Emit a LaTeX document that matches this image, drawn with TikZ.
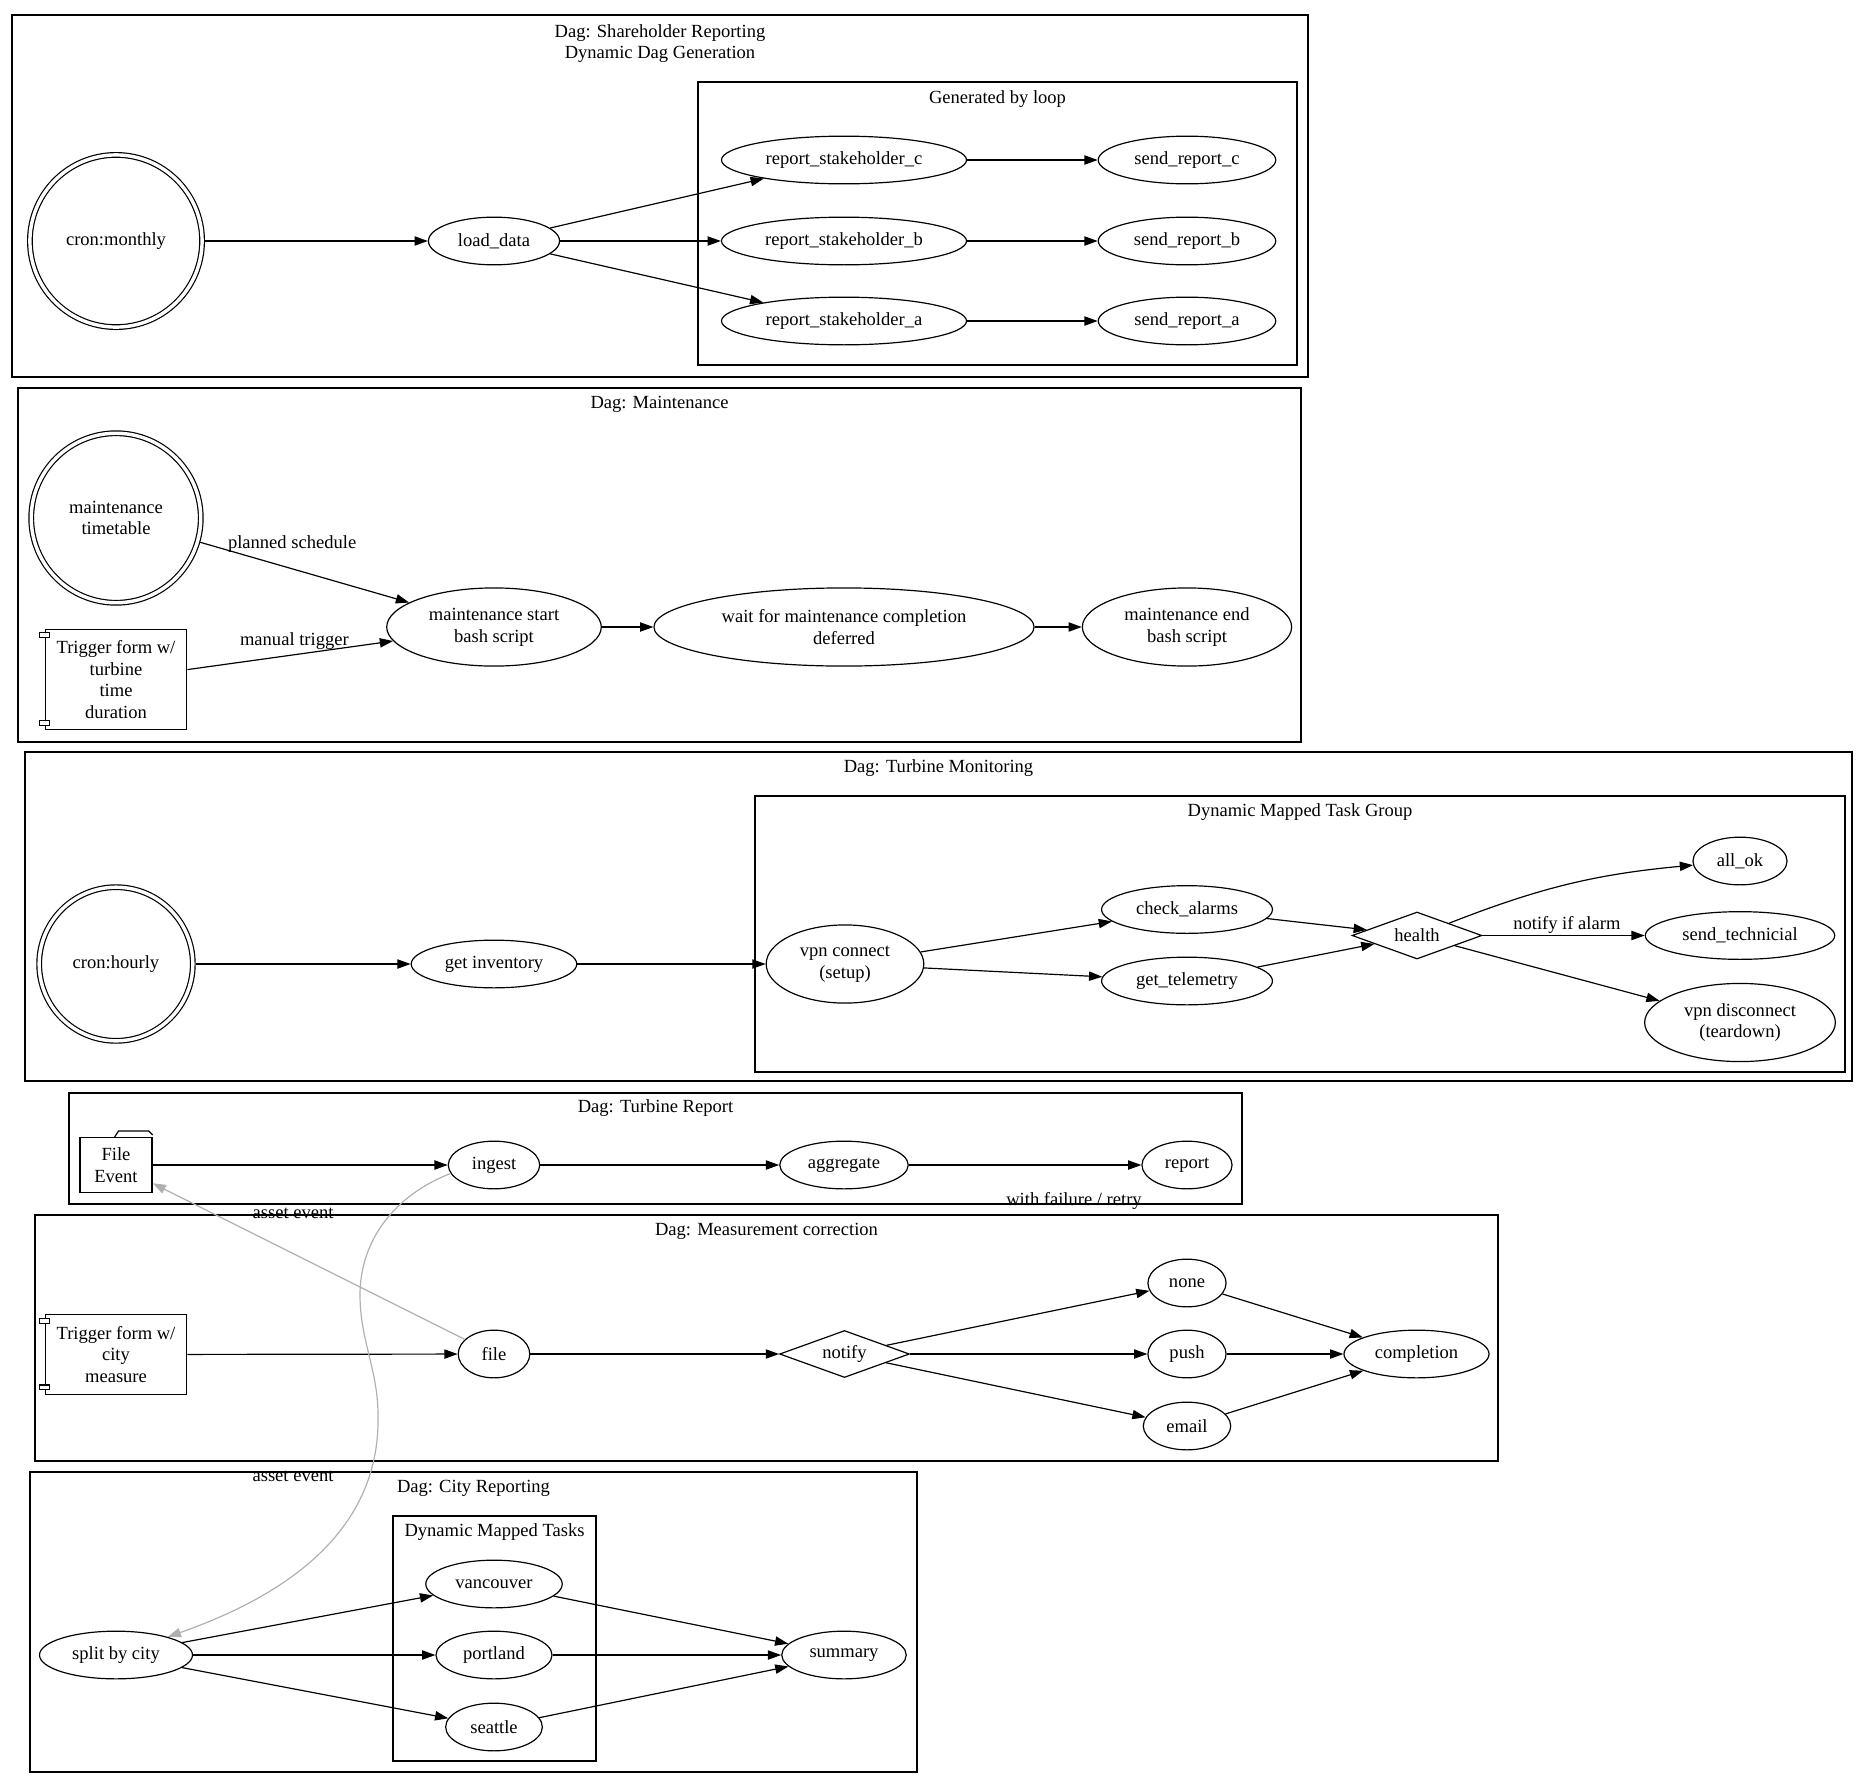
\documentclass[tikz,border=0pt]{standalone}
\usepackage{fontspec}
\setmainfont{Liberation Serif}
\usetikzlibrary{arrows.meta,shapes.geometric}
\definecolor{assetgray}{HTML}{B0B0B0}
\tikzset{
  task/.style={draw, ellipse, inner sep=0pt, minimum height=36pt, align=center},
  tall/.style={task, minimum height=59pt},
  sched/.style={draw, circle, double, double distance=2.6pt, outer sep=2.2pt, inner sep=0pt, align=center},
  form/.style={draw, rectangle, inner sep=0pt, minimum width=107pt, align=center},
  choice/.style={draw, diamond, shape aspect=2.7, inner sep=0pt, minimum width=98pt, minimum height=35.5pt},
  dag/.style={draw},
  flow/.style={-{Triangle[length=10pt,width=7pt]}},
  asset/.style={flow, draw=assetgray},
  lbl/.style={inner sep=0pt}
}

\begin{document}
\begin{tikzpicture}[x=0.755pt, y=-0.755pt, line width=0.9pt, font=\fontsize{14pt}{16.5pt}\selectfont]
\useasboundingbox (0,0) rectangle (1872,1789);

% Dag: Shareholder Reporting
\draw[dag] (12,15) rectangle (1308,377);
\node[align=center] (t1) at (660,43.5) {Dag: Shareholder Reporting\\Dynamic Dag Generation};
\draw[dag] (698,82) rectangle (1297,365);
\node (t1b) at (997.5,99) {Generated by loop};
\node[sched, minimum size=130pt] (cronm) at (116,241) {cron:monthly};
\node[task, minimum width=99pt] (loaddata) at (494,241) {load\_data};
\node[task, minimum width=185pt] (rsc) at (844,160) {report\_stakeholder\_c};
\node[task, minimum width=185pt] (rsb) at (844,241) {report\_stakeholder\_b};
\node[task, minimum width=185pt] (rsa) at (844,321) {report\_stakeholder\_a};
\node[task, minimum width=134pt] (src) at (1187,160) {send\_report\_c};
\node[task, minimum width=134pt] (srb) at (1187,241) {send\_report\_b};
\node[task, minimum width=134pt] (sra) at (1187,321) {send\_report\_a};
\draw[flow] (cronm) -- (loaddata);
\foreach \s in {a,b,c} {
  \draw[flow] (loaddata) -- (rs\s);
  \draw[flow] (rs\s) -- (sr\s);
}

% Dag: Maintenance
\draw[dag] (18,388) rectangle (1301,742);
\node (t2) at (659.5,404) {Dag: Maintenance};
\node[sched, minimum size=128pt] (mtime) at (116,518) {maintenance\\timetable};
\node[form, minimum height=76pt] (trigt) at (116,679.5) {Trigger form w/\\turbine\\time\\duration};
\node[tall, minimum width=162pt] (mstart) at (494,627) {maintenance start\\bash script};
\node[tall, minimum width=287pt] (mwait) at (844,627) {wait for maintenance completion\\deferred};
\node[tall, minimum width=158pt] (mend) at (1187,627) {maintenance end\\bash script};
\draw[flow] (mtime) -- node[lbl, pos=0.44, yshift=19pt] {planned schedule} (mstart);
\draw[flow] (trigt) -- node[lbl, pos=0.52, yshift=10pt] {manual trigger} (mstart);
\draw[flow] (mstart) -- (mwait);
\draw[flow] (mwait) -- (mend);

% Dag: Turbine Monitoring
\draw[dag] (25,752) rectangle (1852,1081);
\node (t3) at (938.5,768) {Dag: Turbine Monitoring};
\draw[dag] (755,796) rectangle (1845,1072);
\node (t3b) at (1300,812) {Dynamic Mapped Task Group};
\node[sched, minimum size=116pt] (cronh) at (116,964) {cron:hourly};
\node[task, minimum width=125pt] (getinv) at (494,964) {get inventory};
\node[tall, minimum width=119pt] (vpnc) at (845,964) {vpn connect\\(setup)};
\node[task, minimum width=129pt] (checka) at (1187,909.5) {check\_alarms};
\node[task, minimum width=129pt] (gettel) at (1187,981) {get\_telemetry};
\node[choice] (health) at (1417,935.5) {health};
\node[task, minimum width=71pt] (allok) at (1740,861) {all\_ok};
\node[task, minimum width=143pt] (sendt) at (1740,935.5) {send\_technicial};
\node[tall, minimum width=144pt] (vpnd) at (1740,1022.5) {vpn disconnect\\(teardown)};
\draw[flow] (cronh) -- (getinv);
\draw[flow] (getinv) -- (vpnc);
\draw[flow] (vpnc) -- (checka);
\draw[flow] (vpnc) -- (gettel);
\draw[flow] (checka) -- (health);
\draw[flow] (gettel) -- (health);
\draw[flow] (health) to[bend left=8] (allok);
\draw[flow] (health) -- node[lbl, pos=0.52, yshift=8pt] {notify if alarm} (sendt);
\draw[flow] (health) -- (vpnd);

% Dag: Turbine Report
\draw[dag] (69,1093) rectangle (1242,1204);
\node (t4) at (655.5,1108) {Dag: Turbine Report};
\node[draw, rectangle, inner sep=0pt, minimum width=54.4pt, minimum height=41.5pt, align=center] (fileev) at (116,1165) {File\\Event};
\draw ([xshift=-28.7pt]fileev.north east) -- ([xshift=-25.7pt,yshift=4.5pt]fileev.north east)
  -- ([xshift=-3pt,yshift=4.5pt]fileev.north east) -- ([yshift=1.5pt]fileev.north east);
\node[task, minimum width=69pt] (ingest) at (494,1165) {ingest};
\node[task, minimum width=97pt] (aggr) at (844,1165) {aggregate};
\node[task, minimum width=68pt] (report) at (1187,1165) {report};
\node[lbl] (retry) at (1074,1201) {with failure / retry};
\draw[flow] (fileev) -- (ingest);
\draw[flow] (ingest) -- (aggr);
\draw[flow] (aggr) -- (report);

% Dag: Measurement correction
\draw[dag] (35,1215) rectangle (1498,1461);
\node (t5) at (766.5,1231) {Dag: Measurement correction};
\node[form, minimum height=60pt] (trigc) at (116,1354.5) {Trigger form w/\\city\\measure};
\node[task, minimum width=54pt] (file) at (494,1354) {file};
\node[choice] (notify) at (844.5,1354) {notify};
\node[task, minimum width=59pt] (none) at (1187,1283) {none};
\node[task, minimum width=59pt] (push) at (1187,1354) {push};
\node[task, minimum width=66pt] (email) at (1187,1426) {email};
\node[task, minimum width=109.5pt] (compl) at (1416.5,1354) {completion};
\draw[flow] (trigc) -- (file);
\draw[flow] (file) -- (notify);
\foreach \n in {none,push,email} {
  \draw[flow] (notify) -- (\n);
  \draw[flow] (\n) -- (compl);
}

% component tabs
\foreach \f in {trigt,trigc} {
  \draw[fill=white] ([xshift=-4pt,yshift=-3pt]\f.north west) rectangle ([xshift=4pt,yshift=-7pt]\f.north west);
  \draw[fill=white] ([xshift=-4pt,yshift=4pt]\f.south west) rectangle ([xshift=4pt,yshift=7.5pt]\f.south west);
}

% Dag: City Reporting
\draw[dag] (30,1472) rectangle (917,1772);
\node (t6) at (473.5,1488) {Dag: City Reporting};
\draw[dag] (393,1516) rectangle (596,1761);
\node (t6b) at (494.5,1532) {Dynamic Mapped Tasks};
\node[task, minimum width=115.5pt] (split) at (116,1655) {split by city};
\node[task, minimum width=103pt] (vanc) at (494,1584) {vancouver};
\node[task, minimum width=87.6pt] (portl) at (494,1655) {portland};
\node[task, minimum width=73pt] (seat) at (494,1727) {seattle};
\node[task, minimum width=94pt] (summ) at (844,1655) {summary};
\foreach \c in {vanc,portl,seat} {
  \draw[flow] (split) -- (\c);
  \draw[flow] (\c) -- (summ);
}

% asset events across dags
\draw[asset] (file) -- node[lbl, pos=0.55, yshift=30pt] {asset event} (fileev);
\draw[asset] (ingest.191) .. controls (395,1195) and (360,1240) .. (360,1295)
  .. controls (360,1340) and (378,1370) .. (378,1415)
  .. controls (380,1500) and (330,1580) .. (split);
\node[lbl] (asset2) at (293,1476) {asset event};
\end{tikzpicture}
\end{document}
